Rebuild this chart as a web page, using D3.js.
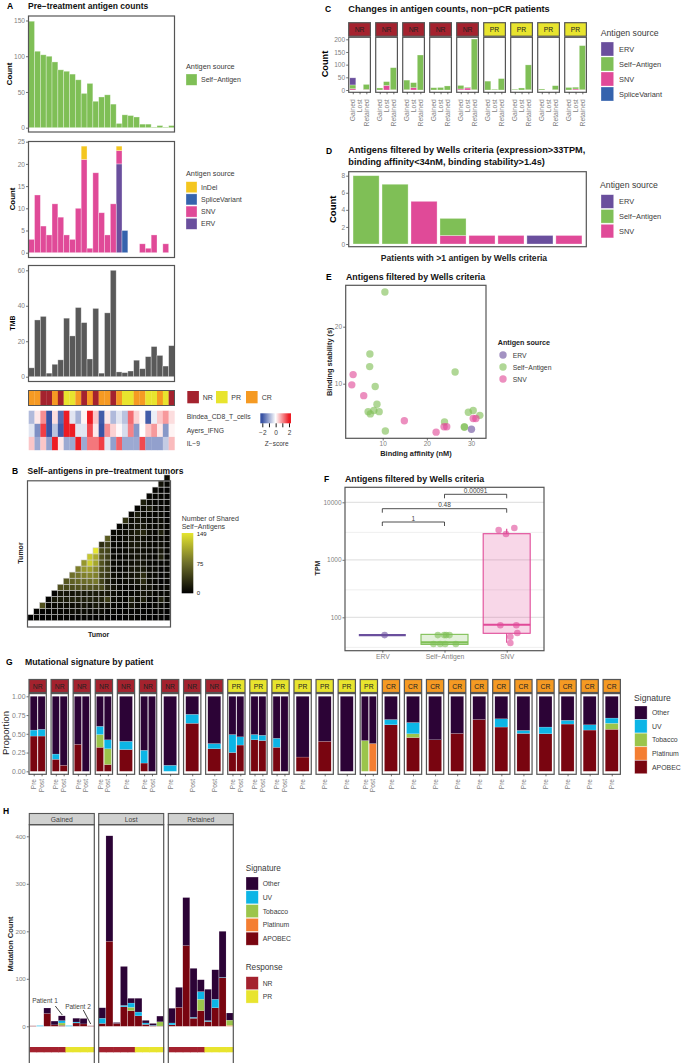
<!DOCTYPE html>
<html><head><meta charset="utf-8">
<script src="https://cdn.jsdelivr.net/npm/d3@7"></script>
<style>html,body{margin:0;padding:0;background:#fff}svg{display:block}text{font-family:"Liberation Sans",Arial,sans-serif}</style>
</head><body><svg id="c" width="685" height="1063"></svg>
<script>
// ---------- Panel A ----------
const selfAntigenCounts=[149,107,102,100,92,81,79,75,67,48,62,37,43,46,33,6,18,17,15,5,5,1,3,1,3];
const ervCounts=[0,0,0,0,0,0,0,0,0,0,0,0,0,0,0,20,0,0,0,0,0,0,0,0,0];
const snvCounts=[3,13,6,4,11,8,4,3,10,21,1,18,9,4,11,3,0,0,0,2,1,4,0,2,0];
const spliceCounts=[0,0,0,0,0,0,0,0,0,0,0,0,0,0,0,0,5,0,0,0,0,0,0,0,0];
const indelCounts=[0,0,0,0,0,0,0,0,0,3,0,0,0,0,0,1,0,0,0,0,0,0,0,0,0];
const tmbValues=[5,32,34,2,7,9.5,33,23,39,30.5,10,38.5,2,36,60,2.7,2.3,3.2,9.3,4.5,11.3,17,12,6,17.5];
const tumorResponse=["CR","CR","NR","NR","CR","NR","PR","PR","CR","NR","CR","NR","CR","CR","NR","CR","PR","PR","CR","CR","PR","PR","CR","PR","NR"];
const bindeaZ=[-0.8,0.2,1.0,-2,0.3,-1.7,2.2,-0.3,-0.9,0.1,2.5,0.5,-1.9,0.2,-0.8,-0.3,-0.7,1.3,0.4,0.05,-1.9,-0.2,0.5,0.9,0.3];
const ayersZ=[-0.3,-1.3,1.7,-2,-0.7,-1.9,2.0,2.0,-0.3,-0.3,1.6,0.2,-2.2,1.0,0.4,0.05,-0.4,1.1,-1.2,0,0.5,0.9,0.2,-1.2,0.1];
const il9Z=[0.5,-1.0,0.5,-1.1,2.4,0.2,-1.0,-1.0,2.1,-1.0,1.2,1.2,1.7,-0.3,-1.1,1.4,-1,-1,-1,1.6,-1.1,-1.1,-1.1,-0.6,0.6];
const zRowNames=["Bindea_CD8_T_cells","Ayers_IFNG","IL\u22129"];
// ---------- Panel B (rows from the bottom, cells from the diagonal rightwards) ----------
const sharedRows=[
[1,2,1,3,2,2,3,3,2,3,3,2,2,3,1,1,1,4,2,3,1,1,3,2],
[2,3,3,4,5,5,8,8,8,7,7,8,3,4,1,2,3,5,3,2,1,4,2],
[55,4,6,7,8,8,10,14,8,16,10,10,4,3,2,14,6,3,1,5,5,2],
[3,16,18,18,22,22,20,22,20,22,40,8,6,4,20,8,20,5,3,20,6],
[3,15,14,13,18,16,16,18,15,15,8,5,3,5,8,14,10,5,4,7],
[55,50,52,55,55,56,55,50,28,12,6,4,6,8,14,12,5,4,6],
[58,65,70,72,75,80,45,25,8,5,8,10,16,30,8,5,3,5],
[75,78,85,88,85,45,35,8,5,8,12,16,30,6,6,3,4],
[85,100,105,90,50,40,6,5,7,14,16,16,6,6,3,4],
[100,135,110,55,38,6,5,6,10,14,12,5,4,4,5],
[130,112,55,42,6,4,6,10,14,10,6,4,20,4],
[149,50,45,5,5,6,12,12,8,6,4,14,4],
[30,40,5,5,6,14,16,10,6,4,8,4],
[62,5,5,8,14,14,10,6,4,6,4],
[5,6,8,14,22,26,8,5,20,4],
[4,6,10,14,14,6,5,8,4],
[35,8,14,10,5,5,8,3],
[5,18,6,5,4,6,3],
[4,8,18,6,5,5],
[20,6,5,5,4],
[5,4,4,3],
[5,3,3],
[12,4],
[8]];
// ---------- Panel C ----------
const changeCats=["Gained","Lost","Retained"];
const changeResponse=["NR","NR","NR","NR","NR","PR","PR","PR","PR"];
const changeSplice=[0,0,0, 0,0,0, 0,0,0, 0,0,0, 0,0,0, 0,0,0, 0,0,0, 0,0,0, 0,0,0];
const changeSnv=[5,0,2, 0,18,1, 1,9,0, 0,0,0, 4,8,1, 0,0,0, 0,0,1, 0,0,1, 0,4,1];
const changeSelf=[15,0,20, 8,15,87, 38,20,138, 9,10,16, 14,3,200, 35,3,45, 3,8,98, 4,0,16, 10,7,174];
const changeErv=[28,0,0, 0,0,0, 0,0,0, 0,0,0, 0,0,0, 0,0,0, 0,0,0, 0,0,0, 0,0,0];
// ---------- Panel D ----------
const wellsPatients=["P1","P2","P3","P4","P5","P6","P7","P8"];
const wellsSnv=[0,0,5,1,1,1,0,1];
const wellsSelf=[8,7,0,2,0,0,0,0];
const wellsErv=[0,0,0,0,0,0,1,0];
// ---------- Panel E ----------
const affinitySelf=[10.5,7.1,7.05,26.4,8.3,8.7,6.7,7.2,8.0,9.2,10.6,29.4,30.5,32.0,24.0,28.5,28.5];
const stabilitySelf=[26.1,15.2,13.0,12.05,9.5,6.4,5.1,4.7,5.3,5.1,1.7,5.0,5.3,4.45,3.3,2.4,2.4];
const affinitySnv=[3.3,3.0,5.7,14.9,22.1,23.9,24.5,30.5,31.1];
const stabilitySnv=[11.6,9.8,7.9,3.5,1.5,2.45,2.45,3.9,3.9];
const affinityErv=[30.1];
const stabilityErv=[2.0];
// ---------- Panel F ----------
const tpmCats=["ERV","Self\u2212Antigen","SNV"];
const tpmTicks=[100,1000,10000];
const tpmMinor=[30,300,3000];
const boxQ1=[49,33.8,52.7];
const boxMedian=[49,36.7,74];
const boxQ3=[49,50.5,2843];
const whiskLow=[49,33.8,36];
const whiskHigh=[49,50.5,3470];
const tpmErv=[49];
const jitErv=[0.037];
const tpmSelf=[49,49,49,49,34.4,34.4,34.4,34.4];
const jitSelf=[-0.107,-0.005,0.027,0.08,-0.177,-0.07,0.011,0.182];
const tpmSnv=[3296,2813,3573,72.6,72.6,53.3,46,35.7];
const jitSnv=[-0.129,-0.011,0.123,-0.102,0.155,0.171,0.059,0.059];
const pValues=["1","0.48","0.00091"];
const pFrom=[0,0,1];
const pTo=[1,2,2];
// ---------- Panel G ----------
const patientResponse=["NR","NR","NR","NR","NR","NR","NR","NR","NR","PR","PR","PR","PR","PR","PR","PR","CR","CR","CR","CR","CR","CR","CR","CR","CR","CR","CR"];
const patientIdx=[0,0,1,1,2,2,3,3,4,5,5,6,7,8,9,9,10,10,11,11,12,13,14,15,15,16,17,18,19,20,21,22,23,24,25,26];
const sampleType=["Pre","Post","Pre","Post","Pre","Post","Pre","Post","Pre","Pre","Post","Pre","Post","Post","Pre","Post","Pre","Post","Pre","Post","Pre","Pre","Pre","Pre","Post","Pre","Pre","Pre","Pre","Pre","Pre","Pre","Pre","Pre","Pre","Pre"];
const propApobec=[.47,.47,.16,.08,.36,0,.32,.09,.29,.11,0,0,.64,.30,.25,.35,.42,.41,.32,0,.19,.40,0,0,0,.62,.45,.42,.505,.69,.59,.505,.50,.63,.55,.56];
const propPlatinum=[0,0,0,0,0,0,0,0,0,0,0,0,0,0,0,0,0,0,0,0,0,0,0,0,.37,0,0,0,0,0,0,0,0,0,0,0];
const propTobacco=[0,0,0,0,0,0,.17,.21,0,0,0,0,0,0,0,0,0,0,0,0,0,0,0,.41,0,0,.05,0,0,0,0,0,0,0,0,.08];
const propUv=[.08,.09,.07,0,0,0,.11,.12,.11,.17,0,.08,.12,.07,.24,.11,.07,.07,.12,0,0,0,0,0,0,.07,.15,0,0,0,.11,.04,.09,.05,.07,.07];
// ---------- Panel H ----------
const changeFacets=["Gained","Lost","Retained"];
const hResponse=["NR","NR","NR","NR","NR","PR","PR","PR","PR"];
const hApobec=[[1,0,27,3,2,0,7,5,1],[6,179,6,41,33,22,4,1,0.5],[3,40,170,17,33,10,39,102,0]];
const hPlatinum=[[0,0,0,0,0,0,0,0,0],[0,0,0,0,0,0,0,0,0],[0,0,0,0,0,0,0,0,2]];
const hTobacco=[[0,0,0,0,5,0,0,0,0],[0,0,0,0,7,0,0,0,9],[0,0,0,0,24,0,0,0,11]];
const hUv=[[0,1.5,0,0,5,1.5,2,0,0],[11,0,0,3,9,8,3,1,0],[4,0,0,2,16,2,18,1,0]];
const hOther=[[0,0,11.5,8,10,0,8,11.5,0],[22,222,2,82,10,29,5.5,4,12],[31,42,101,103,25,66,62,97,15]];

const col={Self:"#7fbf56",SNV:"#e04a98",ERV:"#6a4f9d",Splice:"#3563ad",InDel:"#f4c61f",NR:"#a4222e",PR:"#e8e42e",CR:"#f59a23",
 Other:"#2c0336",UV:"#0cb5e6",Tobacco:"#9bc54b",Platinum:"#f47e32",APOBEC:"#790510"};
const frameCol="#555",tickCol="#7f7f7f",legCol="#3a3a3a";
const svg=d3.select("#c");
function text(t,x,y,o={}){
 const e=svg.append("text").attr("x",x).attr("y",y).text(t)
  .attr("font-size",o.size||7).attr("fill",o.fill||"#000").attr("dominant-baseline","central")
  .attr("text-anchor",o.anchor||"start").attr("font-weight",o.bold?"bold":null);
 if(o.rot!=null)e.attr("transform",`rotate(${o.rot},${x},${y})`);
 return e;}
function title(letter,lx,t,x,y,size){text(letter,lx,y,{size:8.5,bold:true});text(t,x,y,{size:size||8.5,bold:true,fill:"#111"});}
function frame(x,y,w,h,sw){svg.append("rect").attr("x",x).attr("y",y).attr("width",w).attr("height",h).attr("fill","none").attr("stroke",frameCol).attr("stroke-width",sw||1.2);}
function axisLeft(scale,x,vals,fmt,size){
 const a=d3.axisLeft(scale).tickValues(vals).tickSize(2).tickPadding(1).tickFormat(fmt||(d=>d));
 const g=svg.append("g").attr("transform",`translate(${x},0)`).call(a);
 g.select(".domain").remove();g.selectAll("line").attr("stroke","#333").attr("stroke-width",.7);
 g.selectAll("text").attr("fill",tickCol).attr("font-size",size||6.6);return g;}
function axisBottomX(scale,y,rot,size,off){
 const a=d3.axisBottom(scale).tickSize(2).tickPadding(1);
 const g=svg.append("g").attr("transform",`translate(0,${y})`).call(a);
 g.select(".domain").remove();g.selectAll("line").attr("stroke","#333").attr("stroke-width",.7);
 const t=g.selectAll("text").attr("fill",tickCol).attr("font-size",size||6.5);
 if(rot){t.attr("transform","rotate(-90)").attr("text-anchor","end").attr("x",-(off||4)).attr("y",0).attr("dy",".32em");}
 return g;}
function swatches(items,x,y0,pitch,w,h,lx,size){
 items.forEach(([name,c],i)=>{
  svg.append("rect").attr("x",x).attr("y",y0+i*pitch).attr("width",w).attr("height",h).attr("fill",c).attr("stroke","#fff").attr("stroke-opacity",.5).attr("stroke-width",.6);
  text(name,lx,y0+i*pitch+h/2,{size:size||7,fill:legCol});});}
function stackBars(rows,keys,xf,bw,y,colors,sw){
 const st=d3.stack().keys(keys)(rows);
 st.forEach(s=>{svg.append("g").selectAll("rect").data(s.filter(d=>d[1]>d[0])).join("rect")
  .attr("x",d=>xf(d.data)-bw/2).attr("width",bw).attr("y",d=>y(d[1])).attr("height",d=>y(d[0])-y(d[1]))
  .attr("fill",colors[s.key]).attr("stroke","#fff").attr("stroke-opacity",.45).attr("stroke-width",sw==null?.7:sw);});}

// ===== A =====
title("A",7,"Pre\u2212treatment antigen counts",28,6);
const xA=d3.scaleBand().domain(d3.range(25)).range([28.7,174.5]);
const yA1=d3.scaleLinear().domain([0,150]).range([127.7,20.5]);
stackBars(selfAntigenCounts.map((v,i)=>({i,Self:v})),["Self"],d=>xA(d.i)+xA.bandwidth()/2,xA.bandwidth(),yA1,col);
frame(28.5,16,146,116);
axisLeft(yA1,28,[0,50,100,150]);
text("Count",9,74,{size:7.8,bold:true,anchor:"middle",rot:-90});
text("Antigen source",186,66.7,{size:7.3,fill:legCol});
swatches([["Self\u2212Antigen",col.Self]],186,74,0,11,11.3,201);

const yA2=d3.scaleLinear().domain([0,25]).range([252.7,141.7]);
stackBars(d3.range(25).map(i=>({i,ERV:ervCounts[i],SNV:snvCounts[i],Splice:spliceCounts[i],InDel:indelCounts[i]})),["ERV","SNV","Splice","InDel"],d=>xA(d.i)+xA.bandwidth()/2,xA.bandwidth(),yA2,col);
frame(28.5,141.5,146,116);
axisLeft(yA2,28,[0,5,10,15,20,25]);
text("Count",12.7,199,{size:7.8,bold:true,anchor:"middle",rot:-90});
text("Antigen source",186,173.7,{size:7.3,fill:legCol});
swatches([["InDel",col.InDel],["SpliceVariant",col.Splice],["SNV",col.SNV],["ERV",col.ERV]],186,181.7,12.2,11,11,201);

const yT=d3.scaleLinear().domain([0,60]).range([376.7,270.3]);
svg.append("g").selectAll("rect").data(tmbValues).join("rect").attr("x",(d,i)=>xA(i)).attr("width",xA.bandwidth()).attr("y",d=>yT(d)).attr("height",d=>yT(0)-yT(d)).attr("fill","#595959").attr("stroke","#fff").attr("stroke-opacity",.45).attr("stroke-width",.7);
frame(28.5,265.5,146,116);
axisLeft(yT,28,[0,20,40,60]);
text("TMB",12,323,{size:6.8,bold:true,anchor:"middle",rot:-90});

svg.append("g").selectAll("rect").data(tumorResponse).join("rect").attr("x",(d,i)=>xA(i)).attr("width",xA.bandwidth()+.2).attr("y",391).attr("height",14).attr("fill",d=>col[d]);
frame(28.5,390.5,146,15,1);
const zCol=d3.scaleLinear().domain([-2,0,2]).range(["#3953a4","#ffffff","#ed1c24"]).clamp(true);
const yZ=d3.scaleBand().domain(zRowNames).range([410.7,450]);
[bindeaZ,ayersZ,il9Z].forEach((row,r)=>{
 svg.append("g").selectAll("rect").data(row).join("rect").attr("x",(d,i)=>xA(i)).attr("width",xA.bandwidth()+.2).attr("y",yZ(zRowNames[r])).attr("height",yZ.bandwidth()+.2).attr("fill",d=>zCol(d));
 text(zRowNames[r],186.7,[416.7,430,443][r],{size:6.8,fill:legCol});
});
[["NR",187.3,202.7],["PR",216,231.3],["CR",246,261.7]].forEach(([n,x,lx])=>{
 svg.append("rect").attr("x",x).attr("y",391).attr("width",11.6).attr("height",12.3).attr("fill",col[n]);
 text(n,lx,397.3,{size:7,fill:legCol});});
// z-score colour bar
const defs=svg.append("defs");
const zg=defs.append("linearGradient").attr("id","zg");
[-2.3,-2,-1,0,1,2,2.3].forEach(v=>zg.append("stop").attr("offset",(v+2.3)/4.6).attr("stop-color",zCol(v)));
svg.append("rect").attr("x",260.3).attr("y",413.3).attr("width",30.7).attr("height",10).attr("fill","url(#zg)");
const xZ=d3.scaleLinear().domain([-2,2]).range([262.3,289]);
const zax=svg.append("g").attr("transform","translate(0,423.3)").call(d3.axisBottom(xZ).tickValues([-2,-1,0,1,2]).tickSize(4).tickFormat(d=>d%2==0?String(d).replace("-","\u2212"):""));
zax.select(".domain").remove();zax.selectAll("line").attr("stroke","#000").attr("stroke-width",.9);
zax.selectAll("text").attr("font-size",6.5).attr("fill",legCol);
text("Z\u2212score",276.7,443,{size:6.5,anchor:"middle",fill:legCol});

// ===== B =====
title("B",12,"Self\u2212antigens in pre\u2212treatment tumors",27.5,471);
const xB=d3.scaleBand().domain(d3.range(24)).range([27.8,170]);
const yB=d3.scaleBand().domain(d3.range(24)).range([626.8,481]);
const bCol=d3.scaleLinear().domain([0,75,149]).range(["#000000","#6e6f2a","#e5e52f"]);
sharedRows.forEach((row,b)=>{
 svg.append("g").selectAll("rect").data(row).join("rect").attr("x",(d,i)=>xB(b+i)).attr("y",yB(b)-yB.bandwidth()).attr("width",xB.bandwidth()).attr("height",yB.bandwidth())
  .attr("fill",d=>bCol(d)).attr("stroke","#cfcfcf").attr("stroke-width",.55);});
frame(27.5,480.8,143,146.2);
text("Tumor",20,553,{size:7,bold:true,anchor:"middle",rot:-90,fill:"#222"});
text("Tumor",98.7,634,{size:7,bold:true,anchor:"middle",fill:"#222"});
text("Number of Shared",181.7,518,{size:7,fill:legCol});
text("Self\u2212Antigens",181.7,526,{size:7,fill:legCol});
const bg=defs.append("linearGradient").attr("id","bg").attr("x1",0).attr("y1",1).attr("x2",0).attr("y2",0);
[0,75,149].forEach(v=>bg.append("stop").attr("offset",v/149).attr("stop-color",bCol(v)));
svg.append("rect").attr("x",181.7).attr("y",533).attr("width",11.6).attr("height",60.3).attr("fill","url(#bg)");
[[149,533.7],[75,563.5],[0,593]].forEach(([v,y])=>text(v,196.7,y,{size:6,fill:"#222"}));

// ===== C =====
title("C",325,"Changes in antigen counts, non\u2212pCR patients",348.3,9,9.2);
const yC=d3.scaleLinear().domain([0,200]).range([90,39.3]);
changeResponse.forEach((resp,f)=>{
 const x0=348.7+27*f,W=21.7;
 svg.append("rect").attr("x",x0).attr("y",22.7).attr("width",W).attr("height",13.5).attr("fill",col[resp]).attr("stroke",frameCol).attr("stroke-width",1.2);
 text(resp,x0+W/2,29.7,{size:6.8,anchor:"middle",fill:"#222"});
 const xp=d3.scalePoint().domain(changeCats).range([x0,x0+W]).padding(.6);
 stackBars(changeCats.map((c,i)=>({c,Splice:changeSplice[f*3+i],SNV:changeSnv[f*3+i],Self:changeSelf[f*3+i],ERV:changeErv[f*3+i]})),["Splice","SNV","Self","ERV"],d=>xp(d.c),xp.step()*.9,yC,col,.6);
 frame(x0,37.3,W,55);
 axisBottomX(xp,92.3,true,6.8,7);
});
axisLeft(yC,348.2,[0,50,100,150,200]);
text("Count",325,64,{size:9.2,bold:true,anchor:"middle",rot:-90});
text("Antigen source",600.7,33,{size:8.7,fill:legCol});
swatches([["ERV",col.ERV],["Self\u2212Antigen",col.Self],["SNV",col.SNV],["SpliceVariant",col.Splice]],601,42,15,12.7,14,619,7.4);

// ===== D =====
text("D",326,150.7,{size:8.5,bold:true});
text("Antigens filtered by Wells criteria (expression>33TPM,",348.3,149.7,{size:9.2,bold:true,fill:"#111"});
text("binding affinity<34nM, binding stability>1.4s)",348.3,161.7,{size:9.2,bold:true,fill:"#111"});
const xD=d3.scalePoint().domain(wellsPatients).range([348.7,586.3]).padding(.6);
const yD=d3.scaleLinear().domain([0,8]).range([244,175.7]);
stackBars(wellsPatients.map((p,i)=>({p,SNV:wellsSnv[i],Self:wellsSelf[i],ERV:wellsErv[i]})),["SNV","Self","ERV"],d=>xD(d.p),xD.step()*.9,yD,col);
frame(348.7,171.7,237.6,75);
axisLeft(yD,348.2,[0,2,4,6,8]);
text("Count",332.7,209.3,{size:9.5,bold:true,anchor:"middle",rot:-90});
text("Patients with >1 antigen by Wells criteria",464,258.3,{size:8.6,bold:true,anchor:"middle",fill:"#222"});
text("Antigen source",600,185,{size:8.7,fill:legCol});
swatches([["ERV",col.ERV],["Self\u2212Antigen",col.Self],["SNV",col.SNV]],601,194.7,14.8,12.7,13.6,619,7.4);

// ===== E =====
title("E",326,"Antigens filtered by Wells criteria",346,276.7,8.8);
const xE=d3.scaleLinear().domain([10,30]).range([382.7,471]);
const yE=d3.scaleLinear().domain([10,20]).range([383.7,326.7]);
[[affinityErv,stabilityErv,col.ERV],[affinitySelf,stabilitySelf,col.Self],[affinitySnv,stabilitySnv,col.SNV]].forEach(([xs,ys,c])=>{
 svg.append("g").selectAll("circle").data(xs).join("circle").attr("cx",d=>xE(d)).attr("cy",(d,i)=>yE(ys[i])).attr("r",3.7).attr("fill",c).attr("fill-opacity",.62);});
frame(345.7,285.3,140.3,153);
axisLeft(yE,345.2,[10,20]);
axisBottomX(d3.scaleLinear().domain([10,30]).range([382.7,471]),438.5,false).call(g=>g.selectAll(".tick").filter(d=>![10,20,30].includes(d)).remove());
text("Binding stability (s)",330,361.7,{size:7.4,bold:true,anchor:"middle",rot:-90,fill:"#222"});
text("Binding affinity (nM)",416,453,{size:7.4,bold:true,anchor:"middle",fill:"#222"});
text("Antigen source",497.7,342.3,{size:7.2,bold:true,fill:"#222"});
[["ERV",col.ERV],["Self\u2212Antigen",col.Self],["SNV",col.SNV]].forEach(([n,c],i)=>{
 svg.append("circle").attr("cx",503).attr("cy",355+12*i).attr("r",3.7).attr("fill",c).attr("fill-opacity",.62);
 text(n,512.7,355+12*i,{size:6.8,fill:legCol});});

// ===== F =====
title("F",324,"Antigens filtered by Wells criteria",345,478.5,8.8);
const xF=d3.scalePoint().domain(tpmCats).range([345,544]).padding(.6);
const yF=d3.scaleLog().domain([100,10000]).range([617.3,502.3]);
const fcols=[col.ERV,col.Self,col.SNV];
tpmMinor.forEach(v=>svg.append("line").attr("x1",345).attr("x2",544).attr("y1",yF(v)).attr("y2",yF(v)).attr("stroke","#ebebeb").attr("stroke-width",.8));
tpmTicks.forEach(v=>svg.append("line").attr("x1",345).attr("x2",544).attr("y1",yF(v)).attr("y2",yF(v)).attr("stroke","#e3e3e3").attr("stroke-width",1.2));
const bw=47;
tpmCats.forEach((c,i)=>{
 const cx=xF(c);
 svg.append("line").attr("x1",cx).attr("x2",cx).attr("y1",yF(whiskHigh[i])).attr("y2",yF(boxQ3[i])).attr("stroke",fcols[i]).attr("stroke-width",1.2);
 svg.append("line").attr("x1",cx).attr("x2",cx).attr("y1",yF(whiskLow[i])).attr("y2",yF(boxQ1[i])).attr("stroke",fcols[i]).attr("stroke-width",1.2);
 svg.append("rect").attr("x",cx-bw/2).attr("width",bw).attr("y",yF(boxQ3[i])).attr("height",yF(boxQ1[i])-yF(boxQ3[i])).attr("fill",fcols[i]).attr("fill-opacity",.22).attr("stroke",fcols[i]).attr("stroke-width",1.1);
 svg.append("line").attr("x1",cx-bw/2).attr("x2",cx+bw/2).attr("y1",yF(boxMedian[i])).attr("y2",yF(boxMedian[i])).attr("stroke",fcols[i]).attr("stroke-width",2.1);
});
[[tpmErv,jitErv,0],[tpmSelf,jitSelf,1],[tpmSnv,jitSnv,2]].forEach(([vs,js,k])=>{
 svg.append("g").selectAll("circle").data(vs).join("circle").attr("cx",(d,i)=>xF(tpmCats[k])+js[i]*xF.step()).attr("cy",d=>yF(d)).attr("r",3.3).attr("fill",fcols[k]).attr("fill-opacity",.6);});
[522,508.7,494.3].forEach((y,i)=>{
 const a=xF(tpmCats[pFrom[i]]),b=xF(tpmCats[pTo[i]]);
 svg.append("path").attr("d",d3.line()([[a,y+4],[a,y],[b,y],[b,y+4]])).attr("fill","none").attr("stroke","#222").attr("stroke-width",.8);
 text(pValues[i],(a+b)/2,y-3.8,{size:6.5,anchor:"middle",fill:"#444"});
});
frame(345,487.3,199,163.4);
axisLeft(yF,344.5,tpmTicks,d=>d,6.5);
axisBottomX(xF,650.7,false,6.8);
text("TPM",317,568,{size:7,bold:true,anchor:"middle",rot:-90,fill:"#222"});

// ===== G =====
title("G",6,"Mutational signature by patient",25,662,8.7);
const yG=d3.scaleLinear().domain([0,1]).range([771.3,696.3]);
const sigKeys=["APOBEC","Platinum","Tobacco","UV"];
const gRows=patientIdx.map((p,i)=>{
 const a=propApobec[i],pl=propPlatinum[i],t=propTobacco[i],u=propUv[i];
 return{p,s:sampleType[i],APOBEC:a,Platinum:pl,Tobacco:t,UV:u,Other:+(1-a-pl-t-u).toFixed(3)};});
patientResponse.forEach((resp,f)=>{
 const x0=29+22.08*f,W=17.3;
 svg.append("rect").attr("x",x0).attr("y",679.5).attr("width",W).attr("height",13).attr("fill",col[resp]).attr("stroke",frameCol).attr("stroke-width",1.2);
 text(resp,x0+W/2,686,{size:6.8,anchor:"middle",fill:"#222"});
 const rows=gRows.filter(r=>r.p==f);
 const xp=d3.scalePoint().domain(rows.map(r=>r.s)).range([x0,x0+W]).padding(.6);
 stackBars(rows,[...sigKeys,"Other"],d=>xp(d.s),xp.step()*.9,yG,col,.35);
 frame(x0,693.6,W,80.7);
 axisBottomX(xp,774.3,true,6.6,4.7);
});
axisLeft(yG,28.5,[0,.25,.5,.75,1],d3.format(".2f"),6.9);
text("Proportion",5,733,{size:9.5,anchor:"middle",rot:-90,fill:"#222"});
text("Signature",634,697.7,{size:8.6,fill:legCol});
const sigItems=[["Other",col.Other],["UV",col.UV],["Tobacco",col.Tobacco],["Platinum",col.Platinum],["APOBEC",col.APOBEC]];
swatches(sigItems,634.7,706,13.6,12.4,13.3,652,6.9);

// ===== H =====
text("H",3,811,{size:8.5,bold:true});
const yH=d3.scaleLinear().domain([0,400]).range([1026.3,836.3]);
const hX=[29.3,98.7,168.3];
changeFacets.forEach((fname,f)=>{
 const x0=hX[f],W=65;
 svg.append("rect").attr("x",x0).attr("y",813.5).attr("width",W).attr("height",11.2).attr("fill","#d0d1d0").attr("stroke",frameCol).attr("stroke-width",1.1);
 text(fname,x0+W/2,819,{size:6.8,anchor:"middle",fill:"#444"});
 const xb=d3.scaleBand().domain(d3.range(9)).range([x0,x0+W]).paddingInner(.04);
 const rows=d3.range(9).map(i=>({i,APOBEC:hApobec[f][i],Platinum:hPlatinum[f][i],Tobacco:hTobacco[f][i],UV:hUv[f][i],Other:hOther[f][i]}));
 stackBars(rows,[...sigKeys,"Other"],d=>xb(d.i)+xb.bandwidth()/2,xb.bandwidth(),yH,col,.3);
 const xr=d3.scaleBand().domain(d3.range(9)).range([x0,x0+W]);
 svg.append("g").selectAll("rect").data(hResponse).join("rect").attr("x",(d,i)=>xr(i)).attr("width",xr.bandwidth()+.6).attr("y",1047).attr("height",5.3).attr("fill",d=>col[d]);
 frame(x0,824.7,W,245);
});
axisLeft(yH,28.8,[0,100,200,300,400],d=>d,6.2);
text("Mutation Count",10,944,{size:7.5,bold:true,anchor:"middle",rot:-90,fill:"#222"});
text("Patient 1",45,1000,{size:6.5,anchor:"middle",fill:"#444"});
text("Patient 2",78,1006,{size:6.5,anchor:"middle",fill:"#444"});
svg.append("line").attr("x1",55.3).attr("y1",1006).attr("x2",62.3).attr("y2",1015).attr("stroke","#111").attr("stroke-width",.8);
svg.append("line").attr("x1",83.3).attr("y1",1010).attr("x2",90.7).attr("y2",1024).attr("stroke","#111").attr("stroke-width",.8);
text("Signature",245.7,868,{size:8.2,fill:legCol});
swatches(sigItems,246,877,13.8,12.3,13,262.7,6.8);
text("Response",245.7,967.7,{size:8.2,fill:legCol});
swatches([["NR",col.NR],["PR",col.PR]],246,976.7,13.4,12.3,13,262.7,6.8);
</script></body></html>
